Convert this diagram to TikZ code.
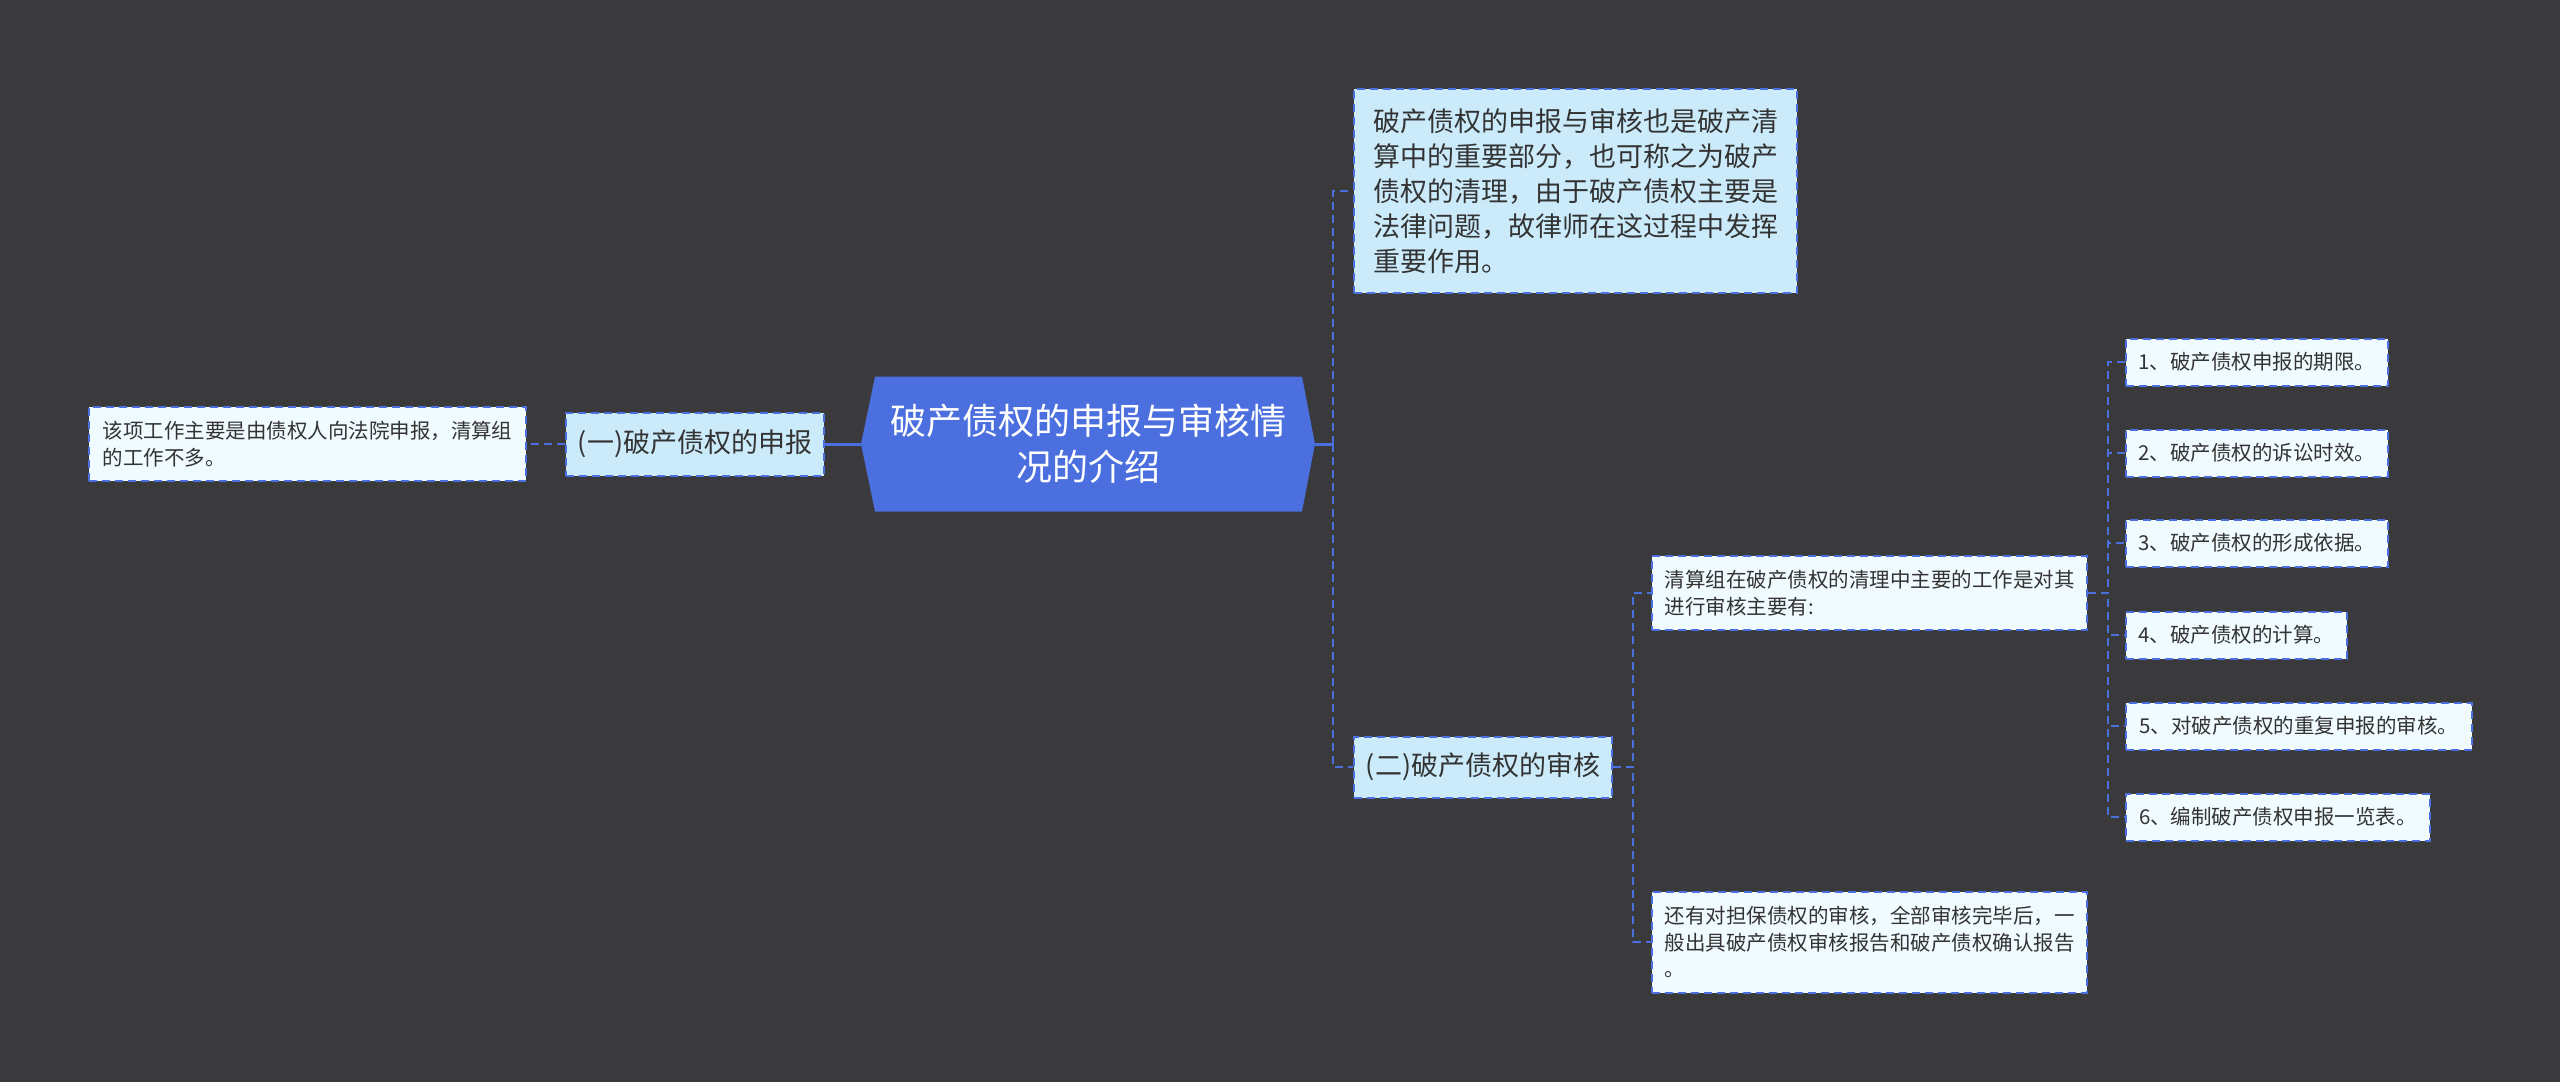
\documentclass[tikz,border=0pt]{standalone}
\usepackage{fontspec}
\setmainfont{Noto Sans CJK SC}
\definecolor{bgdark}{HTML}{3A393B}
\definecolor{mainblue}{HTML}{4B6FDE}
\definecolor{paleblue}{HTML}{CBEBFB}
\definecolor{iceblue}{HTML}{F0FBFF}
\definecolor{inkgrey}{HTML}{333333}
\tikzset{
  dashbox/.style={draw=mainblue, line width=2pt, dash pattern=on 8pt off 5pt, text=inkgrey, align=left, inner sep=0pt, anchor=west},
  branchbox/.style={dashbox, fill=paleblue, font=\fontsize{27}{35}\selectfont},
  leafbox/.style={dashbox, fill=iceblue, font=\fontsize{20.5}{26.5}\selectfont},
  rootbox/.style={fill=bgdark, minimum width=454pt, minimum height=135pt, inner sep=0pt, text=white, align=center,
    font=\fontsize{36}{46}\selectfont,
    path picture={\fill[mainblue] (path picture bounding box.west) -- ([xshift=14pt]path picture bounding box.north west)
      -- ([xshift=-13pt]path picture bounding box.north east) -- (path picture bounding box.east)
      -- ([xshift=-13pt]path picture bounding box.south east) -- ([xshift=14pt]path picture bounding box.south west) -- cycle;}},
  link/.style={draw=mainblue, line width=2pt, dash pattern=on 8pt off 5pt},
  rootlink/.style={draw=mainblue, line width=3pt}
}
\begin{document}
\begin{tikzpicture}[x=1pt, y=-1pt]
  \fill[bgdark] (0,0) rectangle (2560,1082);
  % centre
  \node[rootbox] (root) at (1088,444) {破产债权的申报与审核情\\况的介绍};
  % left side
  \node[branchbox, minimum width=258pt, minimum height=63pt] (b1) at (565,444) {(一)破产债权的申报};
  \node[leafbox, minimum width=437pt, minimum height=74pt] (left) at (88,444) {该项工作主要是由债权人向法院申报，清算组\\的工作不多。};
  \draw[rootlink] (root.west) -- (b1.east);
  \draw[link] (b1.west) -- (left.east);
  % right side
  \node[branchbox, minimum width=443pt, minimum height=204pt] (note) at (1353,191)
    {破产债权的申报与审核也是破产清\\算中的重要部分，也可称之为破产\\债权的清理，由于破产债权主要是\\法律问题，故律师在这过程中发挥\\重要作用。};
  \node[branchbox, minimum width=258pt, minimum height=61pt] (b2) at (1353,767) {(二)破产债权的审核};
  \draw[rootlink] (root.east) -- ++(18,0) coordinate (rj);
  \draw[link] (rj) |- (note.west);
  \draw[link] (rj) |- (b2.west);
  \node[leafbox, minimum width=435pt, minimum height=74pt] (c1) at (1651,593) {清算组在破产债权的清理中主要的工作是对其\\进行审核主要有:};
  \node[leafbox, minimum width=435pt, minimum height=101pt] (c2) at (1651,942) {还有对担保债权的审核，全部审核完毕后，一\\般出具破产债权审核报告和破产债权确认报告\\。};
  \draw[link] (b2.east) -- ++(20,0) |- (c1.west);
  \draw[link] (b2.east) -- ++(20,0) |- (c2.west);
  \foreach \i/\y/\w/\t in {1/362/262/{1、破产债权申报的期限。}, 2/453/262/{2、破产债权的诉讼时效。},
      3/543/262/{3、破产债权的形成依据。}, 4/635/221/{4、破产债权的计算。},
      5/726/346/{5、对破产债权的重复申报的审核。}, 6/817/304/{6、编制破产债权申报一览表。}}{
    \node[leafbox, minimum width=\w pt, minimum height=47pt] (d\i) at (2125,\y) {\t};
    \draw[link] (c1.east) -- ++(20,0) |- (d\i.west);
  }
\end{tikzpicture}
\end{document}
